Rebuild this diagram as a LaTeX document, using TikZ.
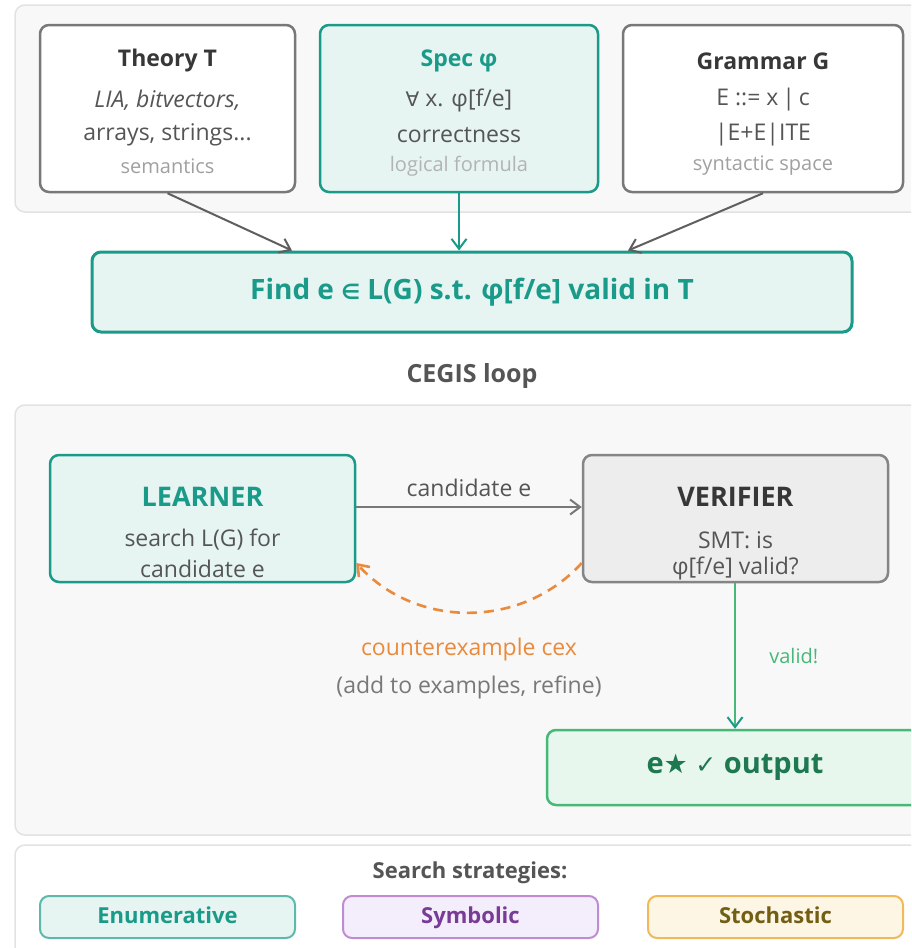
\documentclass[tikz,border=0pt]{standalone}
\usepackage{fontspec}
\setmainfont{Open Sans}
\newfontfamily\symfont{DejaVu Sans}
\usepackage{xcolor}
\definecolor{sea}{RGB}{26,154,136}
\definecolor{seafill}{RGB}{230,244,242}
\definecolor{ink}{RGB}{55,55,55}
\definecolor{mist}{RGB}{120,120,120}
\definecolor{fog}{RGB}{160,160,160}
\definecolor{panel}{RGB}{248,248,248}
\definecolor{rim}{RGB}{226,226,226}
\definecolor{rust}{RGB}{234,138,60}
\definecolor{leaf}{RGB}{70,185,120}
\definecolor{leafink}{RGB}{30,120,80}
\definecolor{leaffill}{RGB}{232,247,238}
\definecolor{plum}{RGB}{190,140,210}
\definecolor{plumfill}{RGB}{244,238,252}
\definecolor{plumink}{RGB}{120,60,150}
\definecolor{sand}{RGB}{240,185,90}
\definecolor{sandfill}{RGB}{253,246,228}
\definecolor{sandink}{RGB}{115,95,20}
\usetikzlibrary{arrows.meta,positioning,calc}
\newcommand{\fs}[1]{\fontsize{#1}{#1}\selectfont}

\begin{document}
\begin{tikzpicture}[x=1pt,y=-1pt,
  panelbox/.style={draw=rim,fill=panel,line width=1.5pt,rounded corners=10pt},
  card/.style={rectangle,rounded corners=9pt,line width=2.5pt,inner sep=0pt},
  plain/.style={card,draw=mist,fill=white},
  hot/.style={card,draw=sea,fill=seafill},
  chip/.style={card,line width=2pt,minimum width=255pt,minimum height=42pt,
               text height=16pt,text depth=4pt,font=\fs{22}\bfseries},
  hd/.style={font=\fs{23}\bfseries,color=ink},
  tx/.style={font=\fs{23},color=ink!85},
  sub/.style={font=\fs{20},color=fog},
  arr/.style={-{Straight Barb[length=10pt,width=15pt]},line width=2pt},
]
  \clip (0,0) rectangle (911,948);
  \useasboundingbox (0,0) rectangle (911,948);
  \fill[white] (0,0) rectangle (911,948);

  %% panels
  \draw[panelbox] (15,5) rectangle (940,212);
  \draw[panelbox] (15,405) rectangle (940,835);
  \draw[panelbox,fill=white] (15,845) rectangle (940,970);

  %% inputs
  \node[plain,minimum width=255pt,minimum height=167pt] (thy) at (167.5,108.5) {};
  \node[hd] at (167.5,61) {Theory T};
  \node[tx] at (167.5,100) {\itshape LIA, bitvectors,};
  \node[tx] at (167.5,135) {arrays, strings...};
  \node[sub] at (167.5,166) {semantics};

  \node[hot,minimum width=278pt,minimum height=167pt] (spec) at (459,108.5) {};
  \node[hd,color=sea] at (459,61) {Spec φ};
  \node[tx] at (459,100) {{\symfont\fs{20}∀} x. φ[f/e]};
  \node[tx] at (459,135) {correctness};
  \node[sub,color=fog!80] at (459,166) {logical formula};

  \node[plain,minimum width=280pt,minimum height=167pt] (gram) at (763,108.5) {};
  \node[hd] at (763,61) {Grammar G};
  \node[tx] at (763,100) {E ::= x\,|\,c};
  \node[tx] at (763,135) {|E+E|ITE};
  \node[sub] at (763,166) {syntactic space};

  %% goal
  \node[hot,line width=3pt,minimum width=760pt,minimum height=80pt,
        font=\fs{28}\bfseries,text=sea] (find) at (472,292)
        {Find e {\symfont\fs{21}∈} L(G) s.t. φ[f/e] valid in T};
  \draw[arr,ink!80] (thy.south) -- ([xshift=-180pt]find.north);
  \draw[arr,sea] (spec.south) -- (spec.south |- find.north);
  \draw[arr,ink!80] (gram.south) -- ([xshift=156pt]find.north);

  \node[font=\fs{25}\bfseries,color=ink!85] (loop) at (472,376) {CEGIS loop};

  %% loop
  \node[hot,minimum width=305pt,minimum height=127pt] (lrn) at (202.5,518.5) {};
  \node[font=\fs{27}\bfseries,color=sea] at (202.5,497) {LEARNER};
  \node[tx] at (202.5,540) {search L(G) for};
  \node[tx] at (202.5,569) {candidate e};

  \node[card,draw=mist!90,fill=black!7,minimum width=305pt,minimum height=127pt] (ver) at (735.5,518.5) {};
  \node[font=\fs{27}\bfseries,color=ink] at (735.5,497) {VERIFIER};
  \node[tx] at (735.5,540) {SMT: is};
  \node[tx] at (735.5,568) {φ[f/e] valid?};

  \draw[arr,mist] ([yshift=11.5pt]lrn.east) -- ([yshift=11.5pt]ver.west)
    node[midway,above=6pt,font=\fs{23},color=ink!85] {candidate e};
  \draw[arr,rust,line width=2.6pt,dash pattern=on 10pt off 7pt] ([yshift=-44.5pt]ver.west)
    .. controls +(-60,66) and +(60,66) .. ([yshift=-44.5pt]lrn.east);
  \node[font=\fs{23},color=rust] (cex) at (469,650) {counterexample cex};
  \node[tx,color=mist] (refine) at (469,687) {(add to examples, refine)};

  \node[card,draw=leaf,fill=leaffill,minimum width=376pt,minimum height=75pt,
        font=\fs{29}\bfseries,text=leafink] (out) at (735,767.5)
        {e{\symfont\fs{27}★} {\symfont\fs{25}✓} output};
  \draw[-{Straight Barb[length=10pt,width=15pt,color=sea]},line width=2pt,leaf]
    (ver.south -| out.north) -- (out.north)
    node[pos=0.5,right=30pt,font=\fs{20},color=leaf] {valid!};

  %% strategies
  \node[font=\fs{22}\bfseries,color=ink!85] (strat) at (470,873) {Search strategies:};
  \node[chip,draw=sea!70,fill=seafill,text=sea] (enum) at (167.5,917) {Enumerative};
  \node[chip,draw=plum,fill=plumfill,text=plumink] (symb) at (470.5,917) {Symbolic};
  \node[chip,draw=sand,fill=sandfill,text=sandink] (stoch) at (775.5,917) {Stochastic};
\end{tikzpicture}
\end{document}
